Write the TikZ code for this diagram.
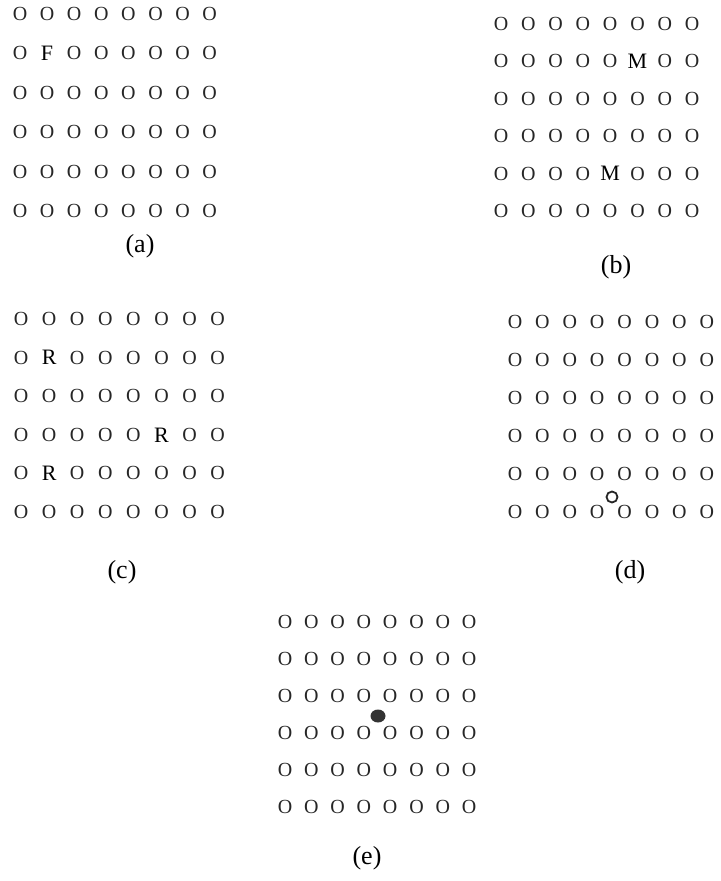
\documentclass[tikz,border=0pt]{standalone}
\usepackage{fontspec}
\setmainfont{Liberation Serif}
\usetikzlibrary{positioning,shapes.geometric}
\tikzset{
  cell/.style={inner sep=0pt, text=black!85, font=\fontsize{10}{12}\selectfont},
  caption/.style={inner sep=0pt, font=\fontsize{13}{15}\selectfont},
}
% a marked letter inside a grid
\newcommand{\mk}[1]{\textcolor{black}{\fontsize{11}{13}\selectfont #1}}
% one 8x6 panel: name, x0, dx, y0, dy, rows
\newcommand{\panelgrid}[6]{%
  \foreach \row [count=\r] in {#6} {
    \foreach \ch [count=\c] in \row {
      \node[cell] (#1-\r-\c) at ({#2+(\c-1)*#3},{#4+(\r-1)*#5}) {\ch};
    }
  }%
}
\begin{document}
\begin{tikzpicture}[x=0.5pt,y=-0.5pt]
\useasboundingbox (0,0) rectangle (720,881);

% (a)
\panelgrid{a}{20}{27.1}{14}{39.4}{%
  {O,O,O,O,O,O,O,O},{O,\mk{F},O,O,O,O,O,O},%
  {O,O,O,O,O,O,O,O},{O,O,O,O,O,O,O,O},{O,O,O,O,O,O,O,O},{O,O,O,O,O,O,O,O}}
\node[caption] (a-cap) at (140,246) {(a)};

% (b)
\panelgrid{b}{501}{27.3}{24}{37.4}{%
  {O,O,O,O,O,O,O,O},{O,O,O,O,O,\mk{M},O,O},%
  {O,O,O,O,O,O,O,O},{O,O,O,O,O,O,O,O},%
  {O,O,O,O,\mk{M},O,O,O},{O,O,O,O,O,O,O,O}}
\node[caption] (b-cap) at (616,267) {(b)};

% (c)
\panelgrid{c}{21}{28.1}{319}{38.6}{%
  {O,O,O,O,O,O,O,O},{O,\mk{R},O,O,O,O,O,O},%
  {O,O,O,O,O,O,O,O},{O,O,O,O,O,\mk{R},O,O},%
  {O,\mk{R},O,O,O,O,O,O},{O,O,O,O,O,O,O,O}}
\node[caption] (c-cap) at (122,572) {(c)};

% (d)
\panelgrid{d}{515}{27.4}{322}{38}{%
  {O,O,O,O,O,O,O,O},{O,O,O,O,O,O,O,O},{O,O,O,O,O,O,O,O},%
  {O,O,O,O,O,O,O,O},{O,O,O,O,O,O,O,O},{O,O,O,O,O,O,O,O}}
\node[circle, draw=black!85, line width=0.9pt, minimum size=5.5pt, inner sep=0pt] (d-ring) at (612,497) {};
\node[caption] (d-cap) at (630,572) {(d)};

% (e)
\panelgrid{e}{285}{26.3}{622}{37}{%
  {O,O,O,O,O,O,O,O},{O,O,O,O,O,O,O,O},{O,O,O,O,O,O,O,O},%
  {O,O,O,O,O,O,O,O},{O,O,O,O,O,O,O,O},{O,O,O,O,O,O,O,O}}
\node[ellipse, fill=black!80, minimum width=7.5pt, minimum height=6.5pt, inner sep=0pt] (e-dot) at (378,716) {};
\node[caption] (e-cap) at (367,858) {(e)};
\end{tikzpicture}
\end{document}
